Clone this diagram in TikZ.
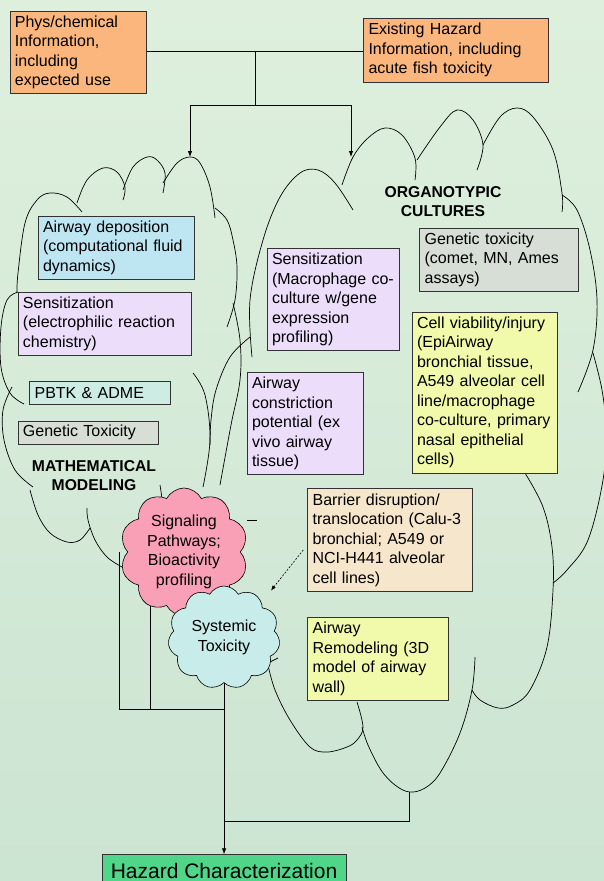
\documentclass[tikz,border=0pt]{standalone}
\usepackage{fontspec}
\setmainfont{Liberation Sans}
\usetikzlibrary{shapes.symbols, arrows.meta, positioning, backgrounds}
\definecolor{bgtop}{RGB}{222,240,221}
\definecolor{bgbottom}{RGB}{204,228,210}
\definecolor{inputorange}{RGB}{251,182,125}
\definecolor{hazardgreen}{RGB}{80,214,137}
\definecolor{depblue}{RGB}{190,230,242}
\definecolor{senslilac}{RGB}{236,221,250}
\definecolor{pbtkcyan}{RGB}{205,236,228}
\definecolor{toxgray}{RGB}{214,222,214}
\definecolor{assayyellow}{RGB}{240,250,170}
\definecolor{barrierbeige}{RGB}{246,230,204}
\definecolor{signalpink}{RGB}{250,160,182}
\definecolor{systemiccyan}{RGB}{200,236,234}
\definecolor{boxline}{RGB}{50,50,50}

\begin{document}
\begin{tikzpicture}[x=1pt, y=1pt,
  infobox/.style={draw=boxline, line width=0.6pt, anchor=north west, inner xsep=5pt, inner ysep=2pt, align=left, font=\fontsize{16}{19.5}\selectfont},
  puffcloud/.style={cloud, draw=black, line width=0.6pt, aspect=1, inner sep=0pt, align=center, font=\fontsize{16}{19.5}\selectfont},
  outline/.style={line width=0.7pt},
  link/.style={line width=0.8pt},
  arr/.style={link, -{Latex[length=6pt,width=4.5pt]}},
  dasharr/.style={line width=0.6pt, dash pattern=on 2pt off 1.5pt, -{Latex[length=5pt,width=4pt]}},
  title/.style={align=center, font=\fontsize{15.7}{19}\selectfont\bfseries}]
  \useasboundingbox (0,0) rectangle (604,-881);

  % background and cloud outlines
  \begin{scope}[on background layer]
    \shade[top color=bgtop, bottom color=bgbottom] (0,0) rectangle (604,-881);
    % mathematical modeling cloud
    \draw[outline] plot[smooth, tension=0.6] coordinates {(82,-212) (67,-197) (50,-193) (37,-200) (25,-223) (18,-273) (17,-293)};
    \draw[outline] plot[smooth, tension=0.6] coordinates {(77,-203) (87,-180) (103,-168) (117,-172) (125,-187) (123,-200)};
    \draw[outline] plot[smooth, tension=0.6] coordinates {(123,-190) (133,-167) (147,-157) (157,-160) (165,-173) (163,-193)};
    \draw[outline] plot[smooth, tension=0.6] coordinates {(163,-183) (177,-163) (190,-157) (200,-163) (210,-187) (215,-218)};
    \draw[outline] plot[smooth, tension=0.6] coordinates {(215,-208) (227,-220) (233,-240) (237,-267) (235,-300) (227,-327)};
    \draw[outline] plot[smooth, tension=0.6] coordinates {(233,-303) (240,-340) (240,-380) (231,-425) (220,-485)};
    \draw[outline] plot[smooth, tension=0.6] coordinates {(193,-373) (205,-395) (210,-440) (203,-487)};
    \draw[outline] (160,-485) -- (162,-498);
    \draw[outline] plot[smooth, tension=0.6] coordinates {(122,-567) (107,-557) (95,-540) (88,-520) (87,-508)};
    \draw[outline] plot[smooth, tension=0.6] coordinates {(90,-528) (80,-540) (67,-542) (50,-533) (38,-515) (30,-490)};
    \draw[outline] plot[smooth, tension=0.6] coordinates {(33,-487) (15,-470) (4,-440) (3,-410) (12,-387)};
    \draw[outline] plot[smooth, tension=0.6] coordinates {(24,-404) (10,-393) (1,-367) (1,-327) (7,-300) (18,-292)};
    % organotypic cultures cloud
    \draw[outline] plot[smooth, tension=0.6] coordinates {(252,-357) (250,-300) (263,-240) (280,-197) (300,-173) (318,-170) (335,-183) (353,-210)};
    \draw[outline] plot[smooth, tension=0.6] coordinates {(342,-185) (353,-157) (368,-138) (385,-128) (402,-135) (415,-158) (415,-180)};
    \draw[outline] plot[smooth, tension=0.6] coordinates {(417,-160) (440,-127) (457,-110) (473,-120) (483,-145) (477,-170)};
    \draw[outline] plot[smooth, tension=0.6] coordinates {(483,-145) (500,-117) (517,-108) (533,-117) (553,-150) (562,-193) (562,-212)};
    \draw[outline] plot[smooth, tension=0.6] coordinates {(562,-195) (577,-210) (590,-250) (597,-300) (593,-350) (578,-392)};
    \draw[outline] plot[smooth, tension=0.6] coordinates {(593,-353) (602,-390) (606,-430) (603,-480) (588,-540) (567,-570) (553,-583)};
    \draw[outline] plot[smooth, tension=0.6] coordinates {(525,-473) (543,-507) (552,-547) (553,-590) (547,-647) (530,-690) (513,-705) (498,-708) (480,-700) (472,-690)};
    \draw[outline] plot[smooth, tension=0.6] coordinates {(475,-657) (472,-690) (460,-733) (440,-773) (425,-788) (409.5,-792) (395,-785) (381,-770) (368,-745) (362,-727)};
    \draw[outline] plot[smooth, tension=0.6] coordinates {(357,-702) (363,-727) (357,-740) (347,-747) (327,-752) (310,-747) (290,-720) (275,-690) (268,-665)};
    \draw[outline] plot[smooth, tension=0.6] coordinates {(250,-337) (230,-357) (216,-390) (211,-420) (210,-445)};
    \draw[outline] (268,-663) -- (278,-658);
    \draw[outline] (247,-520) -- (257,-520);
  \end{scope}

  % input boxes
  \node[infobox, fill=inputorange, text width=126.8pt, minimum height=82.3pt] (phys) at (9.6,-11) {Phys/chemical\\Information,\\including\\expected use};
  \node[infobox, fill=inputorange, text width=174.6pt, minimum height=63.4pt] (exist) at (363.2,-18.3) {Existing Hazard\\Information, including\\acute fish toxicity};

  % mathematical modeling boxes
  \node[infobox, fill=depblue, text width=146.6pt, minimum height=63.3pt] (airdep) at (37.7,-215.7) {Airway deposition\\(computational fluid\\dynamics)};
  \node[infobox, fill=senslilac, text width=163pt, minimum height=63.3pt] (senschem) at (17.7,-291.7) {Sensitization\\(electrophilic reaction\\chemistry)};
  \node[infobox, fill=pbtkcyan, text width=131pt, minimum height=23.6pt] (pbtk) at (29.3,-380.7) {PBTK \& ADME};
  \node[infobox, fill=toxgray, text width=130.6pt, minimum height=23.6pt] (gentox) at (17.7,-420.7) {Genetic Toxicity};
  \node[title] (mathlabel) at (94,-476) {MATHEMATICAL\\MODELING};

  % organotypic culture boxes
  \node[title] (orglabel) at (443,-202) {ORGANOTYPIC\\CULTURES};
  \node[infobox, fill=toxgray, text width=148.4pt, minimum height=63.3pt] (gentoxorg) at (419.3,-227.7) {Genetic toxicity\\(comet, MN, Ames\\assays)};
  \node[infobox, fill=senslilac, text width=122.6pt, minimum height=101.7pt] (sensmac) at (266.7,-248.3) {Sensitization\\(Macrophage co-\\culture w/gene\\expression\\profiling)};
  \node[infobox, fill=senslilac, text width=106.6pt, minimum height=102.3pt] (constrict) at (246.7,-372) {Airway\\constriction\\potential (ex\\vivo airway\\tissue)};
  \node[infobox, fill=assayyellow, text width=135pt, minimum height=161pt] (viability) at (411.7,-311.7) {Cell viability/injury\\(EpiAirway\\bronchial tissue,\\A549 alveolar cell\\line/macrophage\\co-culture, primary\\nasal epithelial\\cells)};
  \node[infobox, fill=barrierbeige, text width=155pt, minimum height=102.7pt] (barrier) at (307.3,-488.3) {Barrier disruption/\\translocation (Calu-3\\bronchial; A549 or\\NCI-H441 alveolar\\cell lines)};
  \node[infobox, fill=assayyellow, text width=130.4pt, minimum height=83pt] (remodel) at (307.3,-617.3) {Airway\\Remodeling (3D\\model of airway\\wall)};

  % result clouds
  \node[puffcloud, fill=signalpink, cloud puffs=10, cloud puff arc=125, minimum width=128pt, minimum height=128pt] (signal) at (184,-552) {Signaling\\Pathways;\\Bioactivity\\profiling};
  \node[puffcloud, fill=systemiccyan, cloud puffs=11, cloud puff arc=120, minimum width=112pt, minimum height=86pt] (systemic) at (224,-637.5) {Systemic\\Toxicity};

  % output
  \node[infobox, fill=hazardgreen, minimum width=243.5pt, minimum height=32pt, font=\fontsize{21}{24}\selectfont, inner xsep=6pt] (hazard) at (102,-854.3) {Hazard Characterization};

  % connectors
  \coordinate (split) at (255,-51);
  \coordinate (fork) at (255,-105);
  \coordinate (mathtop) at (190,-157);
  \coordinate (orgtop) at (351,-157);
  \coordinate (orgbottom) at (409.5,-792);
  \coordinate (leftjoin) at (119.3,-709.3);
  \coordinate (midjoin) at (150.3,-709.3);
  \coordinate (outjoin) at (hazard.north |- 0,-709.3);
  \coordinate (rightjoin) at (hazard.north |- 0,-821.7);
  \begin{scope}[on background layer]
    \draw[link] (phys.east |- split) -- (exist.west |- split);
    \draw[link] (split) -- (fork);
    \draw[arr] (fork) -| (mathtop);
    \draw[arr] (fork) -| (orgtop);
    \draw[link] (leftjoin |- signal.center) -- (leftjoin) -- (outjoin);
    \draw[link] (midjoin |- signal.center) -- (midjoin);
    \draw[arr] (hazard.north |- systemic.center) -- (hazard.north);
    \draw[link] (orgbottom) |- (rightjoin);
  \end{scope}
  \draw[dasharr] ([xshift=-4pt,yshift=-10pt]barrier.west) -- ([xshift=47pt,yshift=47pt]systemic.center);
\end{tikzpicture}
\end{document}
